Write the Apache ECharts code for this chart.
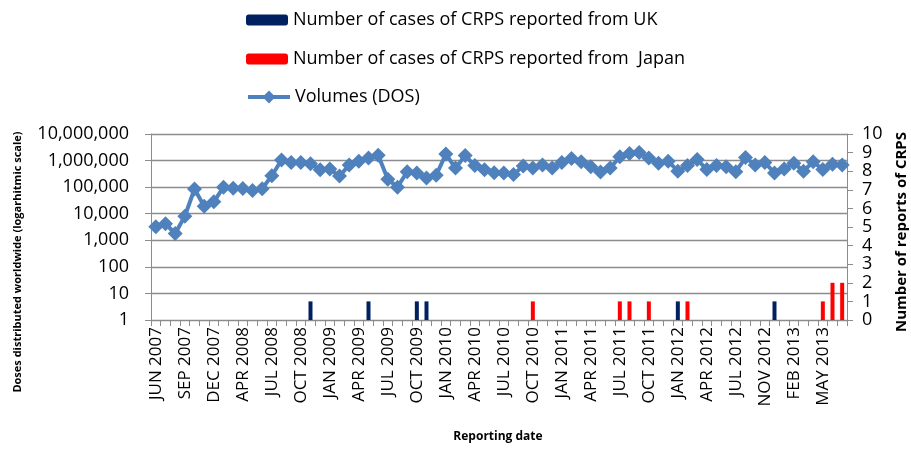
<!DOCTYPE html>
<html>
<head>
<meta charset="utf-8">
<script src="https://cdn.jsdelivr.net/npm/echarts@6/dist/echarts.min.js"></script>
<style>
html,body{margin:0;padding:0;background:#fff;}
#chart{width:911px;height:451px;}
</style>
</head>
<body>
<div id="chart"></div>
<script>
const categories = [
'JUN 2007','JUL 2007','AUG 2007','SEP 2007','OCT 2007','NOV 2007','DEC 2007',
'JAN 2008','FEB 2008','APR 2008','MAY 2008','JUN 2008','JUL 2008','AUG 2008','SEP 2008','OCT 2008','NOV 2008','DEC 2008',
'JAN 2009','FEB 2009','MAR 2009','APR 2009','MAY 2009','JUN 2009','JUL 2009','AUG 2009','SEP 2009','OCT 2009','NOV 2009','DEC 2009',
'JAN 2010','FEB 2010','MAR 2010','APR 2010','MAY 2010','JUN 2010','JUL 2010','AUG 2010','SEP 2010','OCT 2010','NOV 2010','DEC 2010',
'JAN 2011','FEB 2011','MAR 2011','APR 2011','MAY 2011','JUN 2011','JUL 2011','AUG 2011','SEP 2011','OCT 2011','NOV 2011','DEC 2011',
'JAN 2012','FEB 2012','MAR 2012','APR 2012','MAY 2012','JUN 2012','JUL 2012','AUG 2012','SEP 2012','NOV 2012','DEC 2012',
'JAN 2013','FEB 2013','MAR 2013','APR 2013','MAY 2013','JUN 2013','JUL 2013'
];
const ukCases = [
0,0,0,0,0,0,0,
0,0,0,0,0,0,0,0,0,1,0,
0,0,0,0,1,0,0,0,0,1,1,0,
0,0,0,0,0,0,0,0,0,0,0,0,
0,0,0,0,0,0,0,0,0,0,0,0,
1,0,0,0,0,0,0,0,0,0,1,
0,0,0,0,0,0,0
];
const japanCases = [
0,0,0,0,0,0,0,
0,0,0,0,0,0,0,0,0,0,0,
0,0,0,0,0,0,0,0,0,0,0,0,
0,0,0,0,0,0,0,0,0,1,0,0,
0,0,0,0,0,0,1,1,0,1,0,0,
0,1,0,0,0,0,0,0,0,0,0,
0,0,0,0,1,2,2
];
const volumes = [
3200,4200,1800,8000,85000,19000,28000,
100000,90000,88000,75000,87000,270000,1050000,850000,850000,760000,450000,
480000,260000,680000,950000,1250000,1600000,200000,100000,380000,340000,220000,280000,
1750000,520000,1550000,650000,450000,350000,340000,300000,620000,520000,680000,520000,
850000,1200000,900000,580000,370000,520000,1400000,1850000,2000000,1250000,800000,950000,
400000,650000,1100000,460000,650000,580000,380000,1300000,680000,850000,340000,
480000,800000,400000,900000,460000,720000,680000
];
const rightTicks = [0,10,1];

const FONT = 'Open Sans';
const GRID = '#8c8c8c';
const nameUK = 'Number of cases of CRPS reported from UK';
const nameJP = 'Number of cases of CRPS reported from  Japan';
const nameVol = 'Volumes (DOS)';

function fmt(v){ return String(Math.round(v)).replace(/\B(?=(\d{3})+(?!\d))/g, ','); }

const chart = echarts.init(document.getElementById('chart'), null, {renderer:'canvas'});
const legendBase = {
  left: 241, orient: 'vertical', itemGap: 0, selectedMode: false,
  textStyle: {fontFamily: FONT, fontSize: 18, color: '#000'}
};
chart.setOption({
  animation: false,
  backgroundColor: '#fff',
  textStyle: {fontFamily: FONT},
  legend: [
    Object.assign({}, legendBase, {top: 6, data: [nameUK], itemWidth: 42, itemHeight: 11}),
    Object.assign({}, legendBase, {top: 45, data: [nameJP], itemWidth: 42, itemHeight: 11}),
    Object.assign({}, legendBase, {top: 83, data: [nameVol], itemWidth: 42, itemHeight: 16,
      lineStyle: {width: 4}})
  ],
  grid: {left: 151, right: 64, top: 134, bottom: 131, containLabel: false},
  xAxis: {
    type: 'category', data: categories, boundaryGap: true,
    axisLine: {show: true, lineStyle: {color: GRID, width: 1}},
    axisTick: {show: true, interval: 0, length: 6, lineStyle: {color: GRID}},
    axisLabel: {interval: 2, rotate: 90, margin: 7, fontFamily: FONT, fontSize: 17, color: '#000'},
    splitLine: {show: false}
  },
  yAxis: [
    {
      type: 'log', logBase: 10, min: 1, max: 10000000,
      axisLine: {show: true, lineStyle: {color: GRID}},
      axisTick: {show: true, length: 6, lineStyle: {color: GRID}},
      axisLabel: {margin: 22, fontFamily: FONT, fontSize: 18, color: '#000', formatter: fmt},
      splitLine: {show: true, lineStyle: {color: GRID, width: 1.3}}
    },
    {
      type: 'value', min: rightTicks[0], max: rightTicks[1], interval: rightTicks[2], position: 'right',
      axisLine: {show: true, lineStyle: {color: GRID}},
      axisTick: {show: true, length: 6, lineStyle: {color: GRID}},
      axisLabel: {margin: 15, fontFamily: FONT, fontSize: 18, color: '#000'},
      splitLine: {show: false}
    }
  ],
  graphic: [
    {type: 'text', x: 18, y: 262, rotation: Math.PI/2,
     style: {text: 'Doses distributed worldwide (logarhitmic scale)', fontFamily: FONT, fontWeight: 'bold', fontSize: 11, fill: '#000', textAlign: 'center', textVerticalAlign: 'middle'}},
    {type: 'text', x: 902, y: 232, rotation: Math.PI/2,
     style: {text: 'Number of reports of CRPS', fontFamily: FONT, fontWeight: 'bold', fontSize: 15, fill: '#000', textAlign: 'center', textVerticalAlign: 'middle'}},
    {type: 'text', x: 498, y: 437,
     style: {text: 'Reporting date', fontFamily: FONT, fontWeight: 'bold', fontSize: 12, fill: '#000', textAlign: 'center', textVerticalAlign: 'middle'}}
  ],
  series: [
    {name: nameUK, type: 'bar', yAxisIndex: 1, stack: 'cases', data: ukCases, barWidth: 4,
     itemStyle: {color: '#002060'}},
    {name: nameJP, type: 'bar', yAxisIndex: 1, stack: 'cases', data: japanCases, barWidth: 4,
     itemStyle: {color: '#ff0000'}},
    {name: nameVol, type: 'line', yAxisIndex: 0, data: volumes,
     symbol: 'diamond', symbolSize: 15, showAllSymbol: true,
     lineStyle: {color: '#4f81bd', width: 4},
     itemStyle: {color: '#4f81bd'}, z: 5}
  ]
});
</script>
</body>
</html>
